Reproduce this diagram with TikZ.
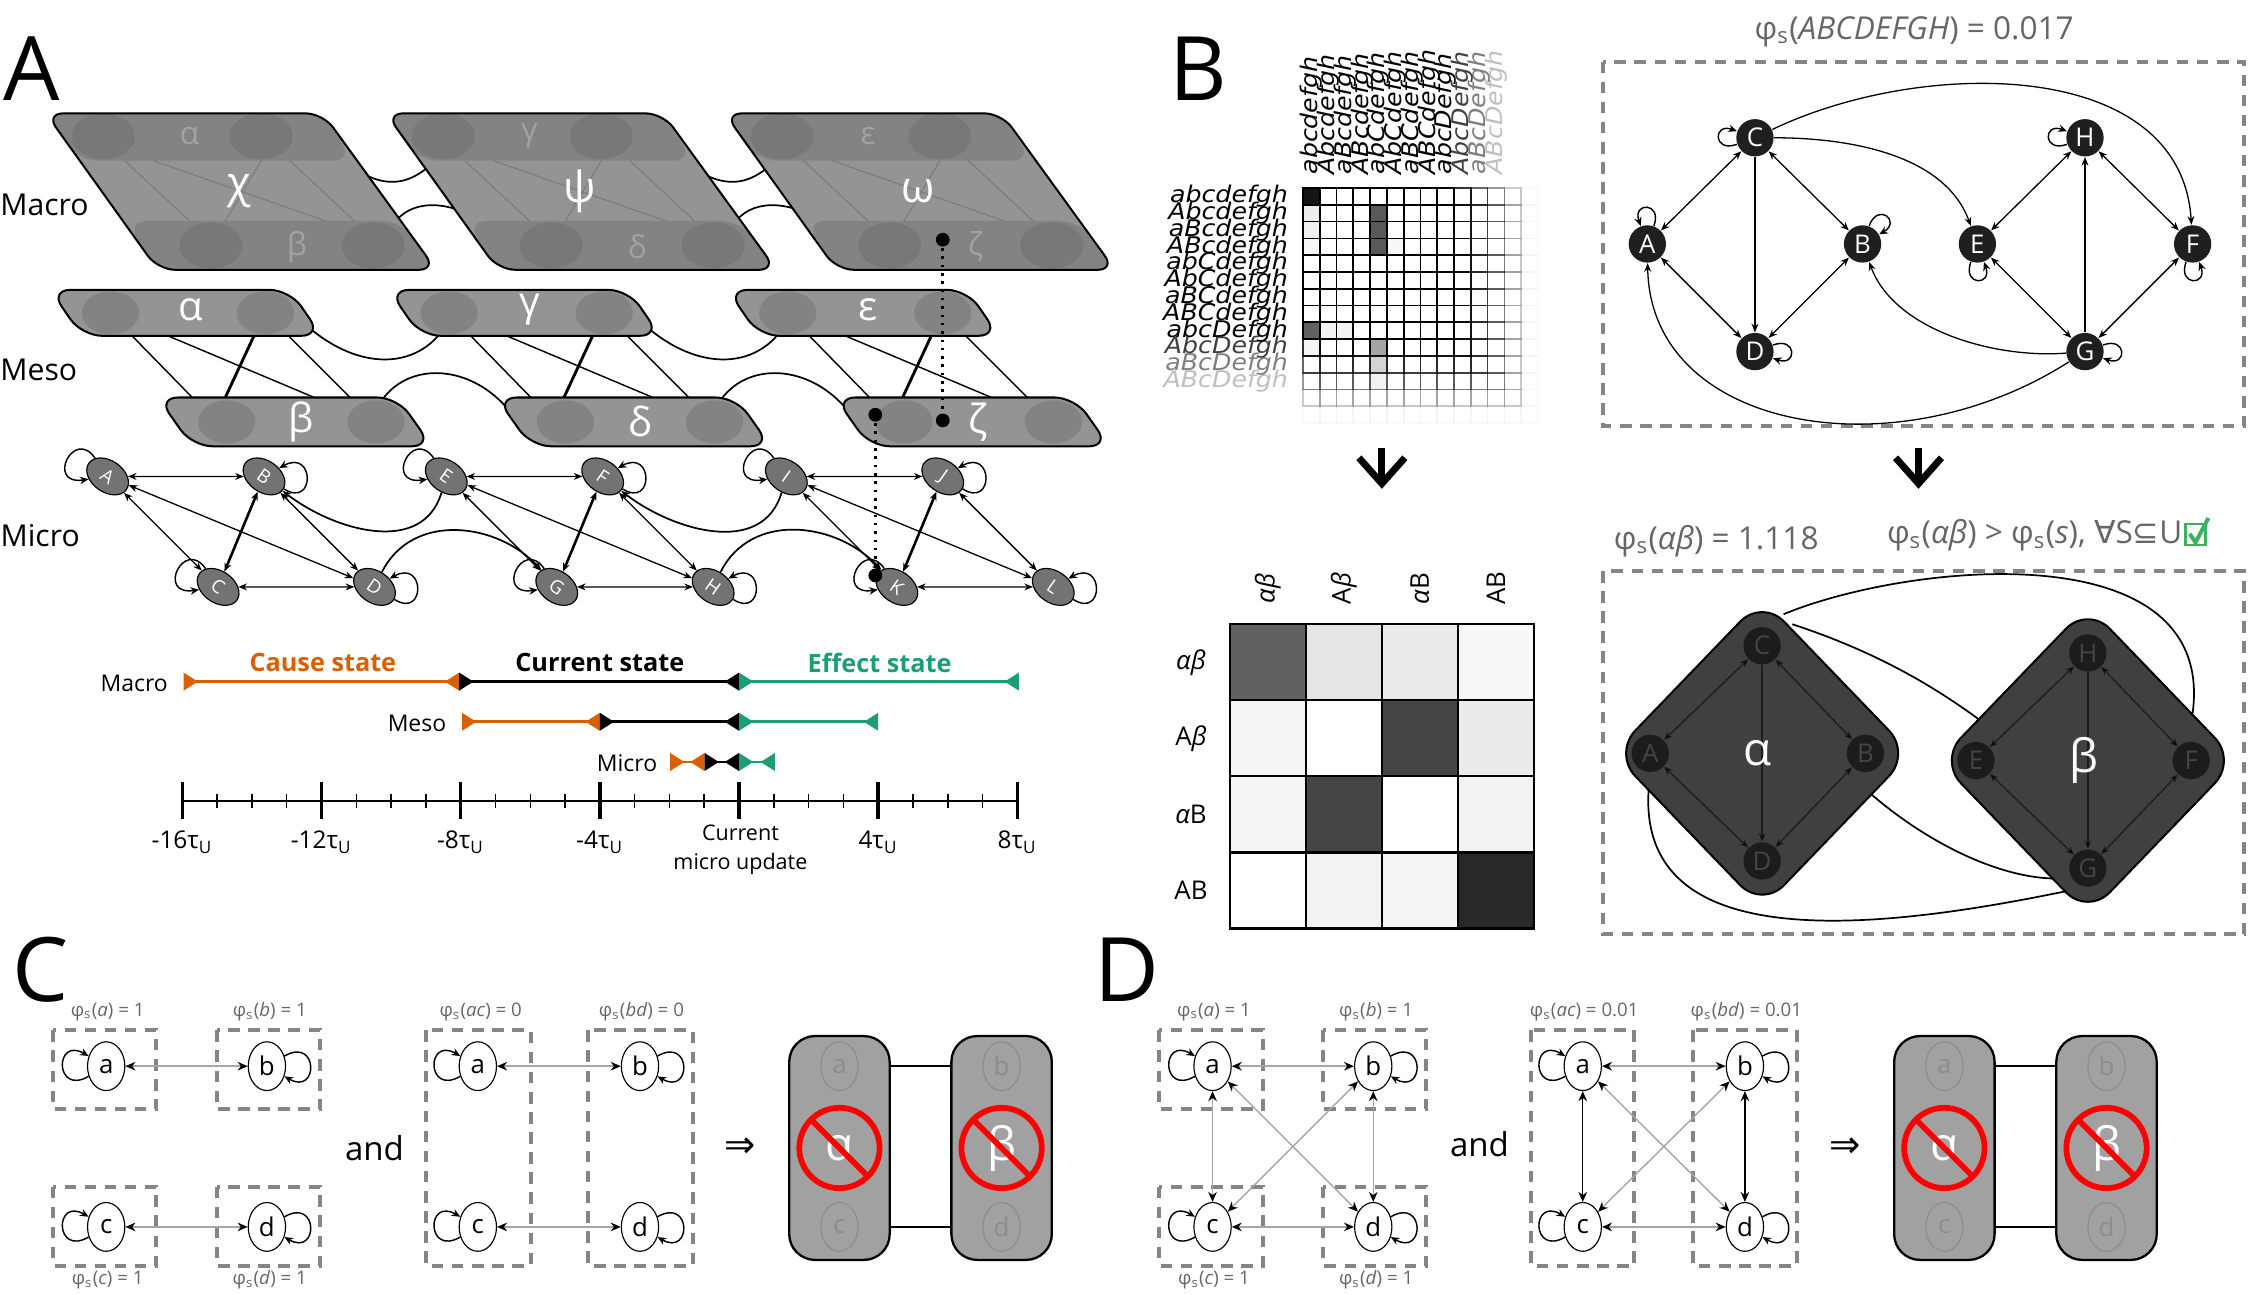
\documentclass[tikz,border=0pt]{standalone}
\usepackage{fontspec}
\setmainfont{Open Sans}
\newfontfamily\dejavu{DejaVu Sans}
\usetikzlibrary{arrows.meta,shapes.geometric,calc}
\definecolor{corange}{HTML}{D95F02}
\definecolor{cgreen}{HTML}{1B9E77}
\definecolor{lblgray}{HTML}{666666}
\definecolor{boxgray}{HTML}{858585}
\newcommand{\phis}{φ\textsubscript{s}}
\begin{document}
\begin{tikzpicture}[x=0.5pt,y=-0.5pt,
  panel/.style={font=\fontsize{31}{31}\selectfont},
  lvl/.style={font=\fontsize{10.5}{12}\selectfont},
  mic/.style={ellipse,draw,fill=black!55,text=white,minimum width=16pt,minimum height=11pt,inner sep=0pt,rotate=-35,font=\fontsize{6.5}{7}\selectfont},
  ar/.style={{Stealth[length=3pt,width=2.4pt]}-{Stealth[length=3pt,width=2.4pt]},line width=0.45pt},
  sa/.style={-{Stealth[length=3pt,width=2.4pt]},line width=0.45pt},
  tri/.style={{Triangle[reversed,length=5pt,width=6pt]}-{Triangle[reversed,length=5pt,width=6pt]},line width=1pt},
  bnode/.style={circle,fill=black!88,text=white,minimum size=13pt,inner sep=0pt,font=\fontsize{9}{9}\selectfont},
  dbox/.style={draw=boxgray,line width=1.4pt,dash pattern=on 4pt off 3pt},
  cn/.style={ellipse,draw,fill=white,minimum width=13pt,minimum height=17pt,inner sep=0pt,font=\fontsize{9}{9}\selectfont},
  gn/.style={ellipse,draw=black!45,minimum width=13pt,minimum height=17pt,inner sep=0pt,text=black!45,font=\fontsize{9}{9}\selectfont},
  plab/.style={text=lblgray,font=\fontsize{6.5}{7}\selectfont},
  mlab/.style={inner sep=0pt,font=\dejavu\itshape\fontsize{8}{7}\selectfont},
  ga/.style={draw=black!35,line width=0.5pt,{Stealth[length=3.5pt,width=3pt,color=black]}-{Stealth[length=3.5pt,width=3pt,color=black]}},
  ba/.style={draw=black,line width=0.5pt,{Stealth[length=3.5pt,width=3pt]}-{Stealth[length=3.5pt,width=3pt]}},
  lp/.style={-{Stealth[length=3pt,width=2.6pt]},line width=0.5pt,looseness=5}
]
\useasboundingbox (0,0) rectangle (1568,902);

% ================= Panel A =================
\node[panel] (labA) at (22,48) {A};
\node[lvl] (lmacro) at (31,143) {Macro};
\node[lvl] (lmeso) at (27,258) {Meso};
\node[lvl] (lmicro) at (28,373) {Micro};

\foreach \x in {32,269}{
  \draw[line width=0.6pt] (\x+205,110) .. controls (\x+235,135) and (\x+255,130) .. (\x+275,108);
  \draw[line width=0.6pt] (\x+240,160) .. controls (\x+250,140) and (\x+275,138) .. (\x+300,152);
}
\foreach \x/\G/\u/\l in {32/χ/α/β,269/ψ/γ/δ,505/ω/ε/ζ}{
  \fill[black!42,rounded corners=6pt] (\x,79) -- (\x+193,79) -- (\x+272,188) -- (\x+78,188) -- cycle;
  \fill[black!55,opacity=.5,rounded corners=7pt] (\x,79) -- (\x+193,79) -- (\x+214,112) -- (\x+22,112) -- cycle;
  \fill[black!55,opacity=.5,rounded corners=7pt] (\x+56,154) -- (\x+248,154) -- (\x+272,188) -- (\x+78,188) -- cycle;
  \foreach \cx/\cy in {40/95,150/95,115/171,228/171}{\fill[black!60,opacity=.35] (\x+\cx,\cy) ellipse (11pt and 8pt);}
  \draw[black!60,opacity=.5] (\x+55,112) -- (\x+100,154) (\x+75,112) -- (\x+195,154) (\x+150,112) -- (\x+125,154) (\x+170,112) -- (\x+215,154);
  \node[text=white,opacity=.25,font=\fontsize{11}{11}\selectfont] at (\x+100,95) {\u};
  \node[text=white,opacity=.25,font=\fontsize{11}{11}\selectfont] at (\x+175,172) {\l};
  \draw[line width=0.7pt,rounded corners=6pt] (\x,79) -- (\x+193,79) -- (\x+272,188) -- (\x+78,188) -- cycle;
  \node[text=white,font=\fontsize{15}{15}\selectfont] at (\x+135,133) {\G};
}

\foreach \x in {35,271,507}{
  \draw[line width=0.5pt] (\x+57,234) -- (\x+99,277);
  \draw[line width=0.5pt] (\x+82,234) -- (\x+184,277);
  \draw[line width=1pt] (\x+142,234) -- (\x+122,277);
  \draw[line width=0.5pt] (\x+166,234) -- (\x+209,277);
}
\foreach \x in {35,271}{
  \draw[line width=0.6pt] (\x+180,228) .. controls (\x+215,258) and (\x+255,258) .. (\x+275,228);
  \draw[line width=0.6pt] (\x+228,284) .. controls (\x+245,252) and (\x+290,252) .. (\x+318,284);
}
\foreach \x/\G in {35/α,271/γ,507/ε}{
  \filldraw[fill=black!42,line width=0.7pt,rounded corners=7pt] (\x,202) -- (\x+167,202) -- (\x+189,234) -- (\x+22,234) -- cycle;
  \fill[black!60,opacity=.35] (\x+42,218) ellipse (10pt and 7.5pt) (\x+150,218) ellipse (10pt and 7.5pt);
  \node[text=white,font=\fontsize{14}{14}\selectfont] at (\x+98,216) {\G};
}
\foreach \x/\G in {110/β,346/δ,582/ζ}{
  \filldraw[fill=black!42,line width=0.7pt,rounded corners=7pt] (\x,277) -- (\x+167,277) -- (\x+191,311) -- (\x+24,311) -- cycle;
  \fill[black!60,opacity=.35] (\x+48,294) ellipse (10pt and 7.5pt) (\x+152,294) ellipse (10pt and 7.5pt);
  \node[text=white,font=\fontsize{14}{14}\selectfont] at (\x+100,294) {\G};
}

\foreach \dx/\a/\b/\c/\d in {0/A/B/C/D,236/E/F/G/H,473/I/J/K/L}{
  \node[mic] (\a) at (75+\dx,332) {\a};
  \node[mic] (\b) at (184+\dx,332) {\b};
  \node[mic] (\c) at (152+\dx,409) {\c};
  \node[mic] (\d) at (261+\dx,409) {\d};
  \draw[ar] (\a) -- (\b);
  \draw[ar] (\c) -- (\d);
  \draw[ar] (\a) -- (\c);
  \draw[ar] (\a) -- (\d);
  \draw[ar,line width=0.9pt] (\b) -- (\c);
  \draw[ar] (\b) -- (\d);
  \draw[lp] (\a) to[out=135,in=200] (\a);
  \draw[lp] (\b) to[out=340,in=40] (\b);
  \draw[lp] (\c) to[out=135,in=200] (\c);
  \draw[lp] (\d) to[out=340,in=40] (\d);
}
\draw[sa,line width=0.6pt] (D) to[out=70,in=140,looseness=1.1] (G);
\draw[sa,line width=0.6pt] (H) to[out=70,in=140,looseness=1.1] (K);
\draw[sa,line width=0.6pt] (E) to[out=260,in=330,looseness=1.1] (B);
\draw[sa,line width=0.6pt] (I) to[out=260,in=330,looseness=1.1] (F);

\fill (657,167) circle (2.4pt);
\fill (657,293) circle (2.4pt);
\fill (610,289) circle (2.4pt);
\fill (610,401) circle (2.4pt);
\coordinate (d1) at (657,167); \coordinate (d2) at (657,293);
\coordinate (d3) at (610,289); \coordinate (d4) at (610,401);
\draw[dotted,line width=0.9pt] (d1) -- (d2);
\draw[dotted,line width=0.9pt] (d3) -- (d4);

\node[text=corange,font=\bfseries\fontsize{8.8}{9}\selectfont] (tcause) at (225,462) {Cause state};
\node[font=\bfseries\fontsize{8.8}{9}\selectfont] (tcur) at (418,462) {Current state};
\node[text=cgreen,font=\bfseries\fontsize{8.8}{9}\selectfont] (teff) at (613,462) {Effect state};
\node[anchor=east,font=\fontsize{8}{9}\selectfont] (tm1) at (124,476) {Macro};
\node[anchor=east,font=\fontsize{8}{9}\selectfont] (tm2) at (318,504) {Meso};
\node[anchor=east,font=\fontsize{8}{9}\selectfont] (tm3) at (465,532) {Micro};
\coordinate (m0) at (128,475); \coordinate (m1) at (320,475); \coordinate (m2) at (515,475); \coordinate (m3) at (710,475);
\draw[tri,corange] (m0) -- (m1); \draw[tri,black] (m1) -- (m2); \draw[tri,cgreen] (m2) -- (m3);
\coordinate (s0) at (322,503); \coordinate (s1) at (418,503); \coordinate (s2) at (515,503); \coordinate (s3) at (612,503);
\draw[tri,corange] (s0) -- (s1); \draw[tri,black] (s1) -- (s2); \draw[tri,cgreen] (s2) -- (s3);
\coordinate (u0) at (467,531); \coordinate (u1) at (491,531); \coordinate (u2) at (515,531); \coordinate (u3) at (540,531);
\draw[tri,corange] (u0) -- (u1); \draw[tri,black] (u1) -- (u2); \draw[tri,cgreen] (u2) -- (u3);
\coordinate (ax0) at (127,558); \coordinate (ax1) at (709,558);
\draw[line width=0.6pt] (ax0) -- (ax1);
\foreach \i in {0,...,24}{
  \pgfmathsetmacro\tx{127+\i*24.25}
  \pgfmathtruncatemacro\mj{mod(\i,4)==0 ? 1 : 0}
  \ifnum\mj=1 \draw[line width=1.2pt] (\tx,545) -- (\tx,571); \else \draw[line width=0.5pt] (\tx,553) -- (\tx,563); \fi
}
\foreach \xx/\t in {127/-16,224/-12,321/-8,418/-4,612/4,709/8}{
  \node[font=\fontsize{8.5}{9}\selectfont] at (\xx,587) {\t τ\textsubscript{U}};
}
\node[font=\fontsize{7.5}{8}\selectfont,align=center] (curmu) at (516,592) {Current\\[2pt]micro update};

% ================= Panel B =================
\node[panel] (labB) at (835,48) {B};
\foreach \r/\lab in {0/abcdefgh,1/Abcdefgh,2/aBcdefgh,3/ABcdefgh,4/abCdefgh,5/AbCdefgh,6/aBCdefgh,7/ABCdefgh,8/abcDefgh,9/AbcDefgh,10/aBcDefgh,11/ABcDefgh}{
  \pgfmathsetmacro\op{min(1,max(0.05,1-(\r-8)*0.25))}
  \node[mlab,anchor=east,opacity=\op,xscale=1.1] at (898,136.85+\r*11.7) {\lab};
  \node[mlab,anchor=west,rotate=90,opacity=\op,xscale=1.1] at (913.85+\r*11.7,122) {\lab};
}
\foreach \r/\c/\col in {0/0/black!92,1/4/black!65,2/4/black!65,3/4/black!65,8/0/black!62,9/4/black!45,10/4/black!30,11/4/black!15,1/0/black!7,2/0/black!6,3/0/black!3,8/1/black!5,8/2/black!5,3/5/black!3,9/0/black!5}{
  \pgfmathsetmacro\op{min(1,max(0.02,1-(\r-8)*0.22))}
  \fill[\col,opacity=\op] (908+\c*11.7,131+\r*11.7) rectangle ++(11.7,11.7);
}
\foreach \r in {0,...,13}{
  \foreach \c in {0,...,13}{
    \pgfmathsetmacro\op{min(1,max(0.02,1-(max(\r,\c)-8)*0.2))}
    \draw[line width=0.6pt,draw opacity=\op] (908+\c*11.7,131+\r*11.7) rectangle ++(11.7,11.7);
  }
}
\draw[line width=2.4pt] (947,319) -- (963,337) -- (979,319);
\draw[line width=2.4pt] (963,312) -- (963,335);
\draw[line width=2.4pt] (1321,319) -- (1337,337) -- (1353,319);
\draw[line width=2.4pt] (1337,312) -- (1337,335);

\foreach \c/\lab in {0/{\itshape αβ},1/{A\itshape β},2/{\itshape α\upshape B},3/AB}{
  \node[rotate=90,font=\fontsize{9}{9}\selectfont] at (883.5+\c*53,410) {\lab};
  \node[font=\fontsize{9}{9}\selectfont] at (830,461.5+\c*53) {\lab};
}
\foreach \r/\c/\col in {0/0/black!62,0/1/black!10,0/2/black!8,0/3/black!3,1/0/black!4,1/1/white,1/2/black!73,1/3/black!8,2/0/black!4,2/1/black!73,2/2/white,2/3/black!5,3/0/white,3/1/black!5,3/2/black!4,3/3/black!84}{
  \filldraw[fill=\col,line width=0.8pt] (857+\c*53,435+\r*53) rectangle ++(53,53);
}

\node[text=lblgray,font=\fontsize{11}{11}\selectfont] (t1) at (1334,22) {\phis(\textit{ABCDEFGH}) = 0.017};
\draw[dbox] (1117,43) rectangle (1564,297);
\node[bnode] (bC) at (1223,96) {C};
\node[bnode] (bA) at (1148,170) {A};
\node[bnode] (bB) at (1298,170) {B};
\node[bnode] (bD) at (1223,245) {D};
\node[bnode] (bH) at (1453,96) {H};
\node[bnode] (bE) at (1378,170) {E};
\node[bnode] (bF) at (1528,170) {F};
\node[bnode] (bG) at (1453,245) {G};
\draw[ar] (bA) -- (bC); \draw[sa] (bC) -- (bD); \draw[ar] (bB) -- (bC);
\draw[ar] (bA) -- (bD); \draw[ar] (bB) -- (bD);
\draw[ar] (bE) -- (bH); \draw[sa] (bG) -- (bH); \draw[ar] (bF) -- (bH);
\draw[ar] (bE) -- (bG); \draw[ar] (bF) -- (bG);
\draw[lp] (bC) to[out=200,in=160] (bC);
\draw[lp] (bA) to[out=70,in=110] (bA);
\draw[lp] (bB) to[out=70,in=30] (bB);
\draw[lp] (bD) to[out=20,in=340] (bD);
\draw[lp] (bH) to[out=200,in=160] (bH);
\draw[lp] (bE) to[out=250,in=290] (bE);
\draw[lp] (bF) to[out=250,in=290] (bF);
\draw[lp] (bG) to[out=20,in=340] (bG);
\draw[sa] (bC) to[out=0,in=110,looseness=0.9] (bE);
\draw[sa] (bC) .. controls (1340,40) and (1520,40) .. (bF);
\draw[sa] (bG) .. controls (1320,330) and (1150,300) .. (bA);
\draw[sa] (bG) .. controls (1390,250) and (1320,230) .. (bB);

\node[text=lblgray,font=\fontsize{11}{11}\selectfont] (t2) at (1196,377) {\phis(\textit{αβ}) = 1.118};
\node[text=lblgray,font=\fontsize{11}{11}\selectfont,anchor=west] (t3) at (1308,373) {\phis(\textit{αβ}) > \phis(\textit{s}), {\dejavu ∀}S{\dejavu ⊆}U};
\draw[cgreen!80!lime,line width=0.8pt] (1523,365) rectangle (1537,380);
\draw[cgreen!80!lime,line width=1.4pt] (1526,372) -- (1530,378) -- (1539,361);
\draw[dbox] (1117,398) rectangle (1564,651);
\draw[line width=0.6pt] (1243,428) .. controls (1330,392) and (1545,370) .. (1528,497);
\draw[line width=0.6pt] (1249,435) .. controls (1310,455) and (1350,480) .. (1380,502);
\draw[line width=0.6pt] (1300,550) .. controls (1345,590) and (1400,615) .. (1440,612);
\draw[line width=0.6pt] (1149,549) .. controls (1140,665) and (1300,650) .. (1440,621);
\foreach \cx/\cy/\G/\n/\w/\e/\s in {1228/525/α/C/A/B/D,1455/530/β/H/E/F/G}{
  \node[diamond,draw,fill=black!75,line width=0.7pt,rounded corners=11pt,minimum width=104pt,minimum height=108pt,inner sep=0pt] (dm\n) at (\cx,\cy) {};
  \begin{scope}[opacity=.55]
  \node[bnode,fill=black,text=black!60] (g\n) at (\cx,\cy-75) {\n};
  \node[bnode,fill=black,text=black!60] (g\w) at (\cx-78,\cy) {\w};
  \node[bnode,fill=black,text=black!60] (g\e) at (\cx+72,\cy) {\e};
  \node[bnode,fill=black,text=black!60] (g\s) at (\cx,\cy+75) {\s};
  \draw[ar,black] (g\w) -- (g\n); \draw[ar,black] (g\e) -- (g\n); \draw[sa,black] (g\n) -- (g\s);
  \draw[ar,black] (g\w) -- (g\s); \draw[ar,black] (g\e) -- (g\s);
  \end{scope}
  \node[text=white,font=\fontsize{16}{16}\selectfont] at (\cx-3,\cy) {\G};
}

% ================= Panels C and D =================
\node[panel] (labC) at (28,676) {C};
\node[panel] (labD) at (785,676) {D};
\foreach \ox/\pre in {0/c,771/d}{
  \draw[dbox] (37+\ox,718) rectangle (109+\ox,773);
  \draw[dbox] (151+\ox,718) rectangle (223+\ox,773);
  \draw[dbox] (37+\ox,827) rectangle (109+\ox,882);
  \draw[dbox] (151+\ox,827) rectangle (223+\ox,882);
  \node[cn] (\pre a) at (74+\ox,743) {a};
  \node[cn] (\pre b) at (186+\ox,743) {b};
  \node[cn] (\pre c) at (74+\ox,855) {c};
  \node[cn] (\pre d) at (186+\ox,855) {d};
  \node[plab] at (75+\ox,705) {\phis(\textit{a}) = 1};
  \node[plab] at (188+\ox,705) {\phis(\textit{b}) = 1};
  \node[plab] at (75+\ox,892) {\phis(\textit{c}) = 1};
  \node[plab] at (188+\ox,892) {\phis(\textit{d}) = 1};
}
\draw[dbox] (297,718) rectangle (370,882);
\draw[dbox] (410,718) rectangle (483,882);
\draw[dbox] (1067,718) rectangle (1139,882);
\draw[dbox] (1180,718) rectangle (1252,882);
\node[cn] (ea) at (333,743) {a};
\node[cn] (eb) at (446,743) {b};
\node[cn] (ec) at (333,855) {c};
\node[cn] (ed) at (446,855) {d};
\node[cn] (fa) at (1103,743) {a};
\node[cn] (fb) at (1216,743) {b};
\node[cn] (fc) at (1103,855) {c};
\node[cn] (fd) at (1216,855) {d};
\node[plab] at (335,705) {\phis(\textit{ac}) = 0};
\node[plab] at (447,705) {\phis(\textit{bd}) = 0};
\node[plab] at (1104,705) {\phis(\textit{ac}) = 0.01};
\node[plab] at (1217,705) {\phis(\textit{bd}) = 0.01};
\foreach \p in {c,d,e,f}{
  \draw[lp] (\p a) to[out=210,in=150] (\p a);
  \draw[lp] (\p b) to[out=30,in=-30] (\p b);
  \draw[lp] (\p c) to[out=210,in=150] (\p c);
  \draw[lp] (\p d) to[out=30,in=-30] (\p d);
  \draw[ga] (\p a) -- (\p b);
  \draw[ga] (\p c) -- (\p d);
}
\draw[ga] (da) -- (dc); \draw[ga] (db) -- (dd);
\draw[ga] (da) -- (dd); \draw[ga] (db) -- (dc);
\draw[ba] (fa) -- (fc); \draw[ba] (fb) -- (fd);
\draw[ga] (fa) -- (fd); \draw[ga] (fb) -- (fc);
\node[font=\fontsize{11.5}{12}\selectfont] (and1) at (261,800) {and};
\node[font=\fontsize{11.5}{12}\selectfont] (and2) at (1031,797) {and};
\node[font=\dejavu\fontsize{13}{13}\selectfont] (imp1) at (516,800) {⇒};
\node[font=\dejavu\fontsize{13}{13}\selectfont] (imp2) at (1286,800) {⇒};
\foreach \bx/\bxx in {550/663,1320/1433}{
  \draw[line width=0.8pt] (\bx+65,743) -- (\bxx+5,743);
  \draw[line width=0.8pt] (\bx+65,855) -- (\bxx+5,855);
  \filldraw[fill=black!37,line width=0.8pt,rounded corners=9pt] (\bx,722) rectangle (\bx+70,878);
  \filldraw[fill=black!37,line width=0.8pt,rounded corners=9pt] (\bxx,722) rectangle (\bxx+70,878);
  \node[gn] at (\bx+35,743) {a};
  \node[gn] at (\bxx+35,743) {b};
  \node[gn] at (\bx+35,855) {c};
  \node[gn] at (\bxx+35,855) {d};
  \node[text=white,font=\fontsize{16}{16}\selectfont] at (\bx+35,800) {α};
  \node[text=white,font=\fontsize{16}{16}\selectfont] at (\bxx+35,800) {β};
  \draw[red,line width=2pt] (\bx+35,800) circle (14pt);
  \draw[red,line width=2pt] (\bx+35,800) ++(225:28) -- ++(45:56);
  \draw[red,line width=2pt] (\bxx+35,800) circle (14pt);
  \draw[red,line width=2pt] (\bxx+35,800) ++(225:28) -- ++(45:56);
}
\end{tikzpicture}
\end{document}
